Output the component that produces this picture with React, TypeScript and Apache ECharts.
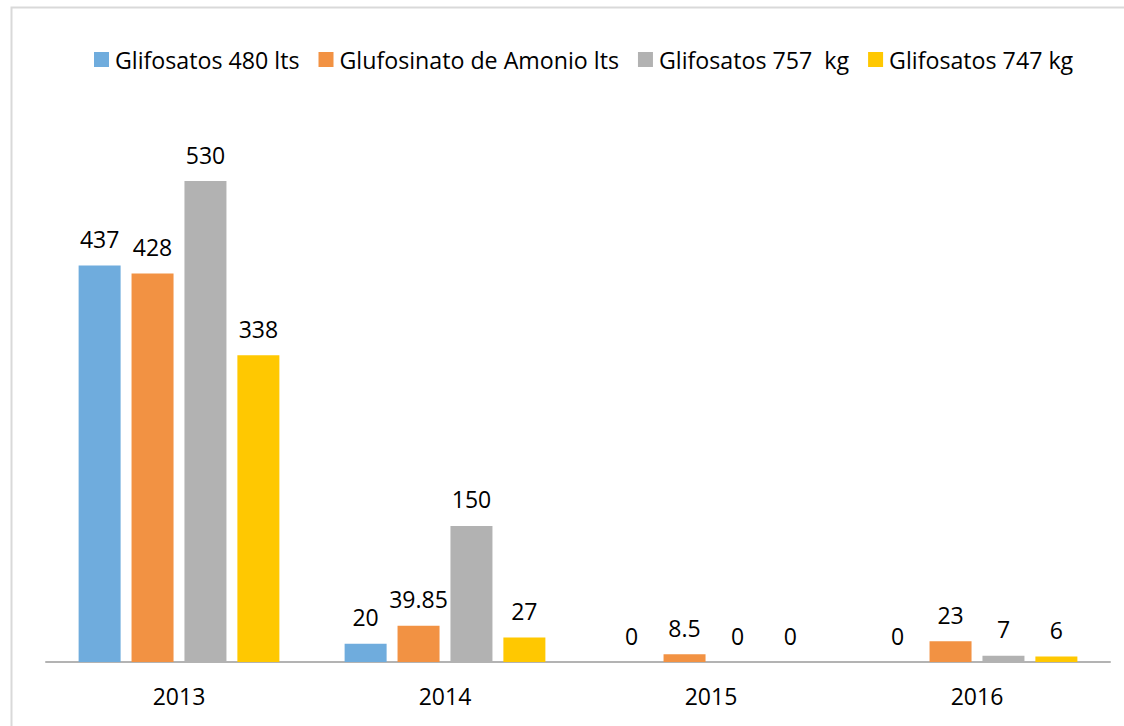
import React, { useEffect, useRef } from "react";
import * as echarts from "echarts";

const categories = ["2013", "2014", "2015", "2016"];
const seriesNames = ["Glifosatos 480 lts", "Glufosinato de Amonio lts", "Glifosatos 757  kg", "Glifosatos 747 kg"];
const glifosatos480 = [437, 20, 0, 0];
const glufosinato = [428, 39.85, 8.5, 23];
const glifosatos757 = [530, 150, 0, 7];
const glifosatos747 = [338, 27, 0, 6];
const colors = ["#6FACDD", "#F29243", "#B2B2B2", "#FFC801"];

const FONT = "Open Sans";

export default function App() {
  const ref = useRef<HTMLDivElement>(null);
  useEffect(() => {
    if (!ref.current) return;
    const chart = echarts.init(ref.current, null, { renderer: "svg" });
    const data = [glifosatos480, glufosinato, glifosatos757, glifosatos747];
    chart.setOption({
      animation: false,
      backgroundColor: "#ffffff",
      graphic: [
        {
          type: "rect",
          shape: { x: 11.5, y: 7.5, width: 1200, height: 800 },
          style: { fill: "none", stroke: "#d9d9d9", lineWidth: 2 },
          silent: true,
        },
      ],
      legend: {
        top: 43,
        left: 89,
        itemWidth: 15,
        itemHeight: 15,
        itemGap: 19,
        icon: "rect",
        textStyle: { fontFamily: FONT, fontSize: 23.2, color: "#000", padding: [0, 0, 0, 1] },
        data: seriesNames,
      },
      grid: { left: 46, right: 14, top: 117.5, bottom: 64, containLabel: false },
      xAxis: {
        type: "category",
        data: categories,
        axisLine: { lineStyle: { color: "#b3b3b3", width: 2 } },
        axisTick: { show: false },
        axisLabel: { fontFamily: FONT, fontSize: 23, color: "#000", margin: 22 },
      },
      yAxis: {
        type: "value",
        min: 0,
        max: 600,
        interval: 100,
        show: false,
        splitLine: { show: false },
      },
      series: seriesNames.map((name, i) => ({
        name,
        type: "bar",
        data: data[i],
        barWidth: 42,
        barGap: "26%",
        itemStyle: { color: colors[i] },
        label: {
          show: true,
          position: "top",
          distance: 15,
          fontFamily: FONT,
          fontSize: 23,
          color: "#000",
        },
      })),
    });
    return () => chart.dispose();
  }, []);
  return (
    <div
      ref={ref}
      style={{ position: "fixed", left: 0, top: 0, width: 1124, height: 726 }}
    />
  );
}
